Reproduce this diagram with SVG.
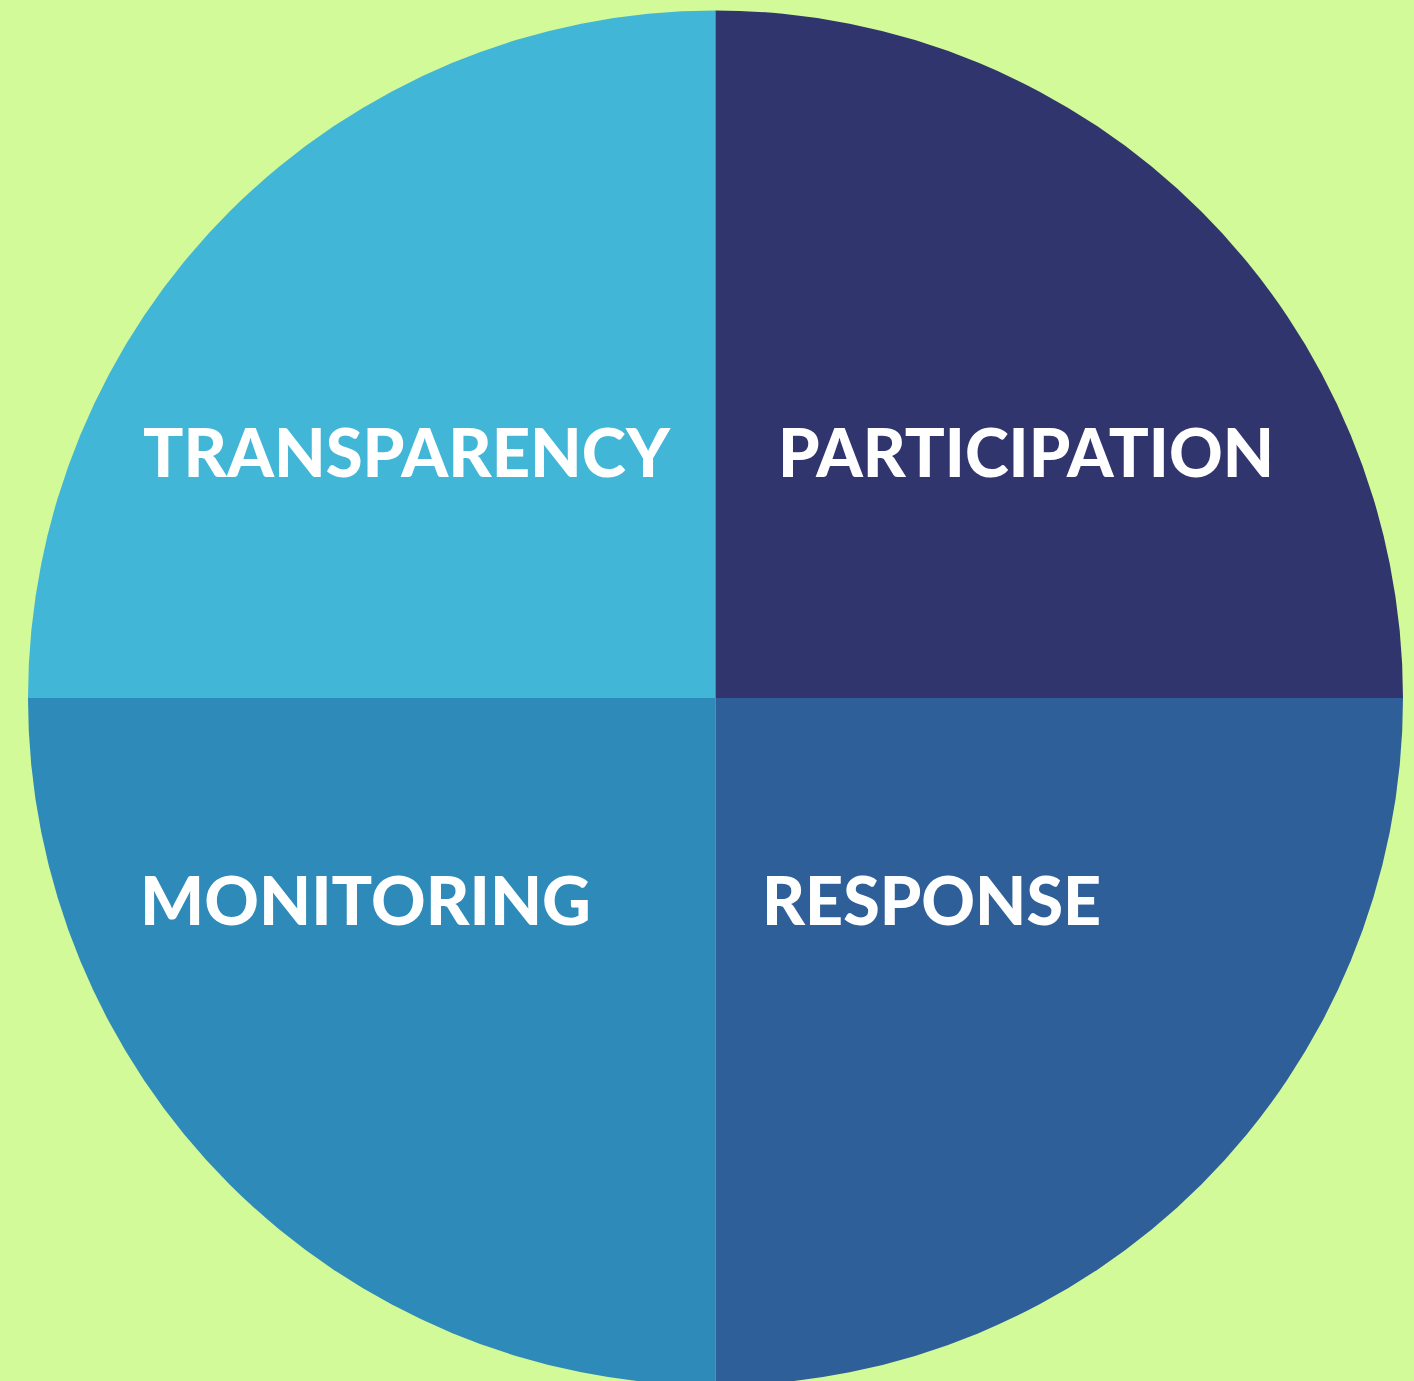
<svg xmlns="http://www.w3.org/2000/svg" width="1414" height="1381" viewBox="0 0 1414 1381">
<style>
.lbl{font-family:Lato,"Liberation Sans",sans-serif;font-weight:900;font-size:67px;fill:#ffffff}
</style>
<rect x="0" y="0" width="1414" height="1381" fill="#D3FA98"/>
<g id="transparency">
<path d="M715.5 698 L28 698 A687.5 687.5 0 0 1 715.5 10.5 Z" fill="#42B6D6"/>
<text class="lbl" x="143" y="477" textLength="527" lengthAdjust="spacingAndGlyphs">TRANSPARENCY</text>
</g>
<g id="participation">
<path d="M715.5 698 L715.5 10.5 A687.5 687.5 0 0 1 1403 698 Z" fill="#31356D"/>
<text class="lbl" x="778" y="477" textLength="496" lengthAdjust="spacingAndGlyphs">PARTICIPATION</text>
</g>
<g id="monitoring">
<path d="M715.5 698 L715.5 1385.5 A687.5 687.5 0 0 1 28 698 Z" fill="#2E8AB8"/>
<text class="lbl" x="140" y="925" textLength="451" lengthAdjust="spacingAndGlyphs">MONITORING</text>
</g>
<g id="response">
<path d="M715.5 698 L1403 698 A687.5 687.5 0 0 1 715.5 1385.5 Z" fill="#2E5F98"/>
<text class="lbl" x="762" y="925" textLength="339" lengthAdjust="spacingAndGlyphs">RESPONSE</text>
</g>
<g id="connectors"></g>
</svg>
